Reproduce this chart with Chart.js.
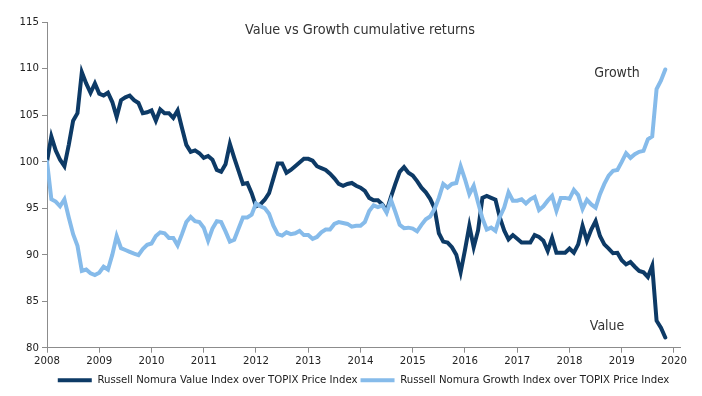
<!DOCTYPE html>
<html>
<head>
<meta charset="utf-8">
<script src="https://cdn.jsdelivr.net/npm/chart.js@4"></script>
<style>
  html, body { margin: 0; padding: 0; background: #fff; }
  #wrap { width: 702px; height: 396px; }
</style>
</head>
<body>
<div id="wrap"><canvas id="lineChart" width="702" height="396"></canvas></div>
<script>
// monthly series, Jan 2008 .. Nov 2019
const startYear = 2008;
const valueIdx = [
  100.0, 102.7, 101.2, 100.2, 99.5, 101.8, 104.4, 105.2, 109.6, 108.4, 107.4, 108.4,
  107.3, 107.1, 107.4, 106.4, 104.8, 106.6, 106.9, 107.1, 106.6, 106.3, 105.2, 105.3,
  105.5, 104.4, 105.6, 105.2, 105.2, 104.7, 105.5, 103.6, 101.8, 101.05, 101.2, 100.9,
  100.4, 100.6, 100.2, 99.1, 98.9, 99.7, 101.9, 100.4, 99.0, 97.6, 97.7, 96.6,
  95.2, 95.4, 95.9, 96.6, 98.2, 99.8, 99.8, 98.8, 99.1, 99.5, 99.9, 100.3,
  100.3, 100.1, 99.5, 99.3, 99.1, 98.7, 98.2, 97.6, 97.4, 97.6, 97.7, 97.4,
  97.2, 96.85, 96.1, 95.85, 95.85, 95.4, 94.7, 96.2, 97.6, 98.9, 99.4, 98.8,
  98.5, 97.9, 97.2, 96.7, 96.0, 95.0, 92.3, 91.4, 91.3, 90.8, 90.0, 88.1,
  90.5, 93.1, 90.8, 92.6, 96.1, 96.3, 96.1, 95.9, 94.0, 92.6, 91.65, 92.1,
  91.7, 91.3, 91.3, 91.3, 92.1, 91.9, 91.5, 90.4, 91.8, 90.2, 90.2, 90.2,
  90.65, 90.2, 91.1, 93.1, 91.5, 92.7, 93.6, 92.0, 91.1, 90.65, 90.15, 90.2,
  89.4, 88.95, 89.2, 88.7, 88.25, 88.1, 87.6, 88.8, 82.9, 82.15, 81.1
];
const growthIdx = [
  100.0, 95.95, 95.7, 95.2, 95.95, 94.0, 92.2, 90.95, 88.25, 88.4, 88.0, 87.8,
  88.05, 88.7, 88.4, 90.0, 92.0, 90.7, 90.5, 90.3, 90.1, 89.95, 90.6, 91.05,
  91.2, 92.0, 92.4, 92.3, 91.8, 91.8, 91.0, 92.2, 93.5, 94.05, 93.6, 93.5,
  92.9, 91.5, 92.8, 93.6, 93.5, 92.5, 91.4, 91.6, 92.8, 94.0, 94.0, 94.3,
  95.5, 95.2, 95.0, 94.4, 93.1, 92.2, 92.05, 92.4, 92.2, 92.3, 92.55, 92.1,
  92.1, 91.7, 91.9, 92.4, 92.7, 92.7, 93.3, 93.5, 93.4, 93.3, 93.0, 93.1,
  93.1, 93.5, 94.7, 95.3, 95.1, 95.3, 94.5, 95.9, 94.6, 93.2, 92.85, 92.9,
  92.8, 92.5, 93.2, 93.8, 94.1, 94.9, 96.1, 97.6, 97.2, 97.6, 97.7, 99.5,
  98.1, 96.5, 97.4, 95.6, 93.9, 92.7, 92.9, 92.55, 94.05, 95.05, 96.7, 95.8,
  95.8, 95.95, 95.5, 95.95, 96.2, 94.8, 95.2, 95.8, 96.3, 94.7, 96.1, 96.1,
  96.0, 96.95, 96.4, 94.9, 95.9, 95.4, 95.05, 96.5, 97.6, 98.5, 99.0, 99.1,
  99.97, 100.9, 100.4, 100.8, 101.05, 101.15, 102.4, 102.7, 107.8, 108.7, 109.9
];
const yearTicks = [2008, 2009, 2010, 2011, 2012, 2013, 2014, 2015, 2016, 2017, 2018, 2019, 2020];
const yTicks = [80, 85, 90, 95, 100, 105, 110, 115];
const seriesNames = ['Russell Nomura Value Index over TOPIX Price Index', 'Russell Nomura Growth Index over TOPIX Price Index'];

const darkBlue = '#0d3a66';
const lightBlue = '#86bbea';
const fontFam = '"Liberation Sans Narrow", "DejaVu Sans Condensed", sans-serif';

function toPoints(arr) {
    return arr.map((v, i) => ({ x: startYear + i / 12, y: v }));
}

// title + series labels drawn inside the plot area
const overlayText = {
    id: 'overlayText',
    afterDraw(chart) {
        const ctx = chart.ctx;
        const xs = chart.scales.x, ys = chart.scales.y;
        ctx.save();
        ctx.fillStyle = '#333';
        ctx.textAlign = 'center';
        ctx.textBaseline = 'middle';
        ctx.font = '14.3px ' + fontFam;
        ctx.fillText('Value vs Growth cumulative returns', 360, 30);
        ctx.font = '14px ' + fontFam;
        ctx.fillText('Growth', xs.getPixelForValue(2018.91), ys.getPixelForValue(109.5));
        ctx.fillText('Value', xs.getPixelForValue(2018.72), ys.getPixelForValue(82.3));
        ctx.restore();
    }
};

document.addEventListener('DOMContentLoaded', function() {
    const ctx = document.getElementById('lineChart').getContext('2d');
    new Chart(ctx, {
        type: 'line',
        data: {
            datasets: [{
                label: seriesNames[0],
                data: toPoints(valueIdx),
                borderColor: darkBlue,
                backgroundColor: darkBlue,
                borderWidth: 4,
                borderCapStyle: 'round',
                pointRadius: 0,
                tension: 0,
                order: 1
            }, {
                label: seriesNames[1],
                data: toPoints(growthIdx),
                borderColor: lightBlue,
                backgroundColor: lightBlue,
                borderWidth: 4,
                borderCapStyle: 'round',
                pointRadius: 0,
                tension: 0,
                order: 0
            }]
        },
        options: {
            responsive: false,
            animation: false,
            layout: { padding: { top: 22, right: 22, left: 0, bottom: 0 } },
            scales: {
                x: {
                    type: 'linear',
                    min: 2008,
                    max: 2020.115,
                    afterBuildTicks: (axis) => { axis.ticks = yearTicks.map(v => ({ value: v })); },
                    afterFit: (axis) => { axis.height = 24; },
                    grid: { display: true, drawOnChartArea: false, drawTicks: true, tickLength: 5, color: '#8c8c8c' },
                    border: { display: true, color: '#8c8c8c', width: 1 },
                    ticks: { color: '#222', font: { family: fontFam, size: 11.3 }, padding: 2, maxRotation: 0, callback: v => String(v) }
                },
                y: {
                    min: 80,
                    max: 115,
                    afterBuildTicks: (axis) => { axis.ticks = yTicks.map(v => ({ value: v })); },
                    afterFit: (axis) => { axis.width = 47; },
                    grid: { display: true, drawOnChartArea: false, drawTicks: true, tickLength: 5, color: '#8c8c8c' },
                    border: { display: true, color: '#8c8c8c', width: 1 },
                    ticks: { color: '#222', font: { family: fontFam, size: 11.3 }, padding: 3 }
                }
            },
            plugins: {
                legend: {
                    position: 'bottom',
                    fullSize: false,
                    labels: {
                        color: '#222',
                        font: { family: fontFam, size: 11.3 },
                        usePointStyle: true,
                        pointStyle: 'line',
                        pointStyleWidth: 34,
                        boxWidth: 34,
                        padding: 3,
                        sort: (a, b) => a.datasetIndex - b.datasetIndex
                    }
                },
                tooltip: { enabled: false }
            }
        },
        plugins: [overlayText]
    });
});
</script>
</body>
</html>
